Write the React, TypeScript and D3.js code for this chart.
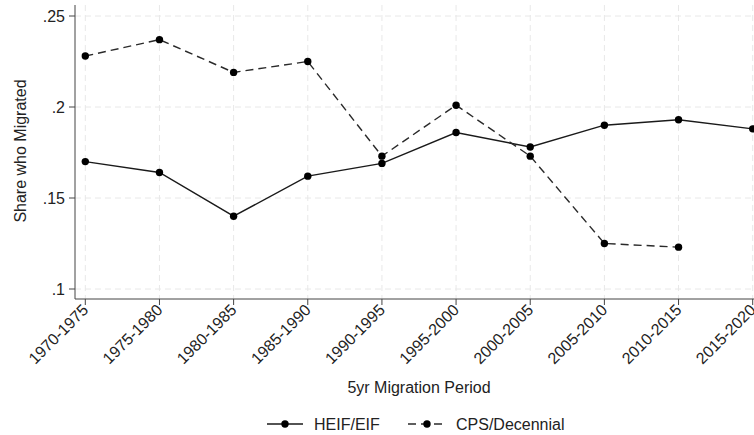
import React from 'react';
import * as d3 from 'd3';

// periods on the x axis
const periods = ['1970-1975', '1975-1980', '1980-1985', '1985-1990', '1990-1995',
  '1995-2000', '2000-2005', '2005-2010', '2010-2015', '2015-2020'];

// HEIF/EIF series (one value per period)
const heifValues = [0.170, 0.164, 0.140, 0.162, 0.169, 0.186, 0.178, 0.190, 0.193, 0.188];

// CPS/Decennial series (stops at 2010-2015)
const cpsValues = [0.228, 0.237, 0.219, 0.225, 0.173, 0.201, 0.173, 0.125, 0.123];

const yTicks = [0.1, 0.15, 0.2, 0.25];
const yTickLabels = ['.1', '.15', '.2', '.25'];

const W = 754;
const H = 435;
const FONT = 'Liberation Sans, Arial, sans-serif';

const PLOT_LEFT = 75;
const PLOT_RIGHT = 754;
const PLOT_TOP = 5;
const PLOT_BOTTOM = 299;
const DOT_R = 3.7;

export default function App() {
  const x = d3.scalePoint<string>().domain(periods).range([85.3, 752.7]);
  const y = d3.scaleLinear().domain([0.1, 0.25]).range([289, 16]);

  const line = d3.line<number>()
    .x((d, i) => x(periods[i]) as number)
    .y((d) => y(d));

  const series = [
    { name: 'HEIF/EIF', values: heifValues, dash: null as string | null, color: '#1a1a1a' },
    { name: 'CPS/Decennial', values: cpsValues, dash: '8,5', color: '#2a2a2a' },
  ];

  return (
    <svg width={W} height={H} style={{ position: 'absolute', left: 0, top: 0, background: '#fff' }}
      fontFamily={FONT}>
      <rect width={W} height={H} fill="#fff" />

      {/* grid */}
      {yTicks.map((t) => (
        <line key={'gy' + t} x1={PLOT_LEFT} x2={PLOT_RIGHT} y1={y(t)} y2={y(t)}
          stroke="#e8e8e8" strokeWidth={1} strokeDasharray="6,4" />
      ))}
      {periods.map((p) => (
        <line key={'gx' + p} x1={x(p)} x2={x(p)} y1={PLOT_TOP} y2={PLOT_BOTTOM}
          stroke="#e8e8e8" strokeWidth={1} strokeDasharray="6,4" />
      ))}

      {/* axes */}
      <line x1={PLOT_LEFT} x2={PLOT_LEFT} y1={PLOT_TOP} y2={PLOT_BOTTOM} stroke="#444" strokeWidth={1} />
      <line x1={PLOT_LEFT} x2={PLOT_RIGHT} y1={PLOT_BOTTOM} y2={PLOT_BOTTOM} stroke="#444" strokeWidth={1} />

      {yTicks.map((t, i) => (
        <g key={'ty' + t}>
          <line x1={PLOT_LEFT - 6} x2={PLOT_LEFT} y1={y(t)} y2={y(t)} stroke="#444" />
          <text x={PLOT_LEFT - 10} y={y(t)} dy="0.35em" textAnchor="end" fontSize={16} fill="#222">
            {yTickLabels[i]}
          </text>
        </g>
      ))}

      {periods.map((p) => {
        const px = x(p) as number;
        return (
          <g key={'tx' + p}>
            <line x1={px} x2={px} y1={PLOT_BOTTOM} y2={PLOT_BOTTOM + 6} stroke="#444" />
            <text transform={`translate(${px + 4},${PLOT_BOTTOM + 12}) rotate(-45)`}
              textAnchor="end" fontSize={16} fill="#222">{p}</text>
          </g>
        );
      })}

      {/* axis titles */}
      <text x={419} y={393} textAnchor="middle" fontSize={16} fill="#222">5yr Migration Period</text>
      <text transform={`translate(26,151) rotate(-90)`} textAnchor="middle" fontSize={16} fill="#222">
        Share who Migrated
      </text>

      {/* series */}
      {series.map((s) => (
        <g key={s.name}>
          <path d={line(s.values) as string} fill="none" stroke={s.color} strokeWidth={1.4}
            strokeDasharray={s.dash || undefined} />
          {s.values.map((v, i) => (
            <circle key={i} cx={x(periods[i])} cy={y(v)} r={DOT_R} fill="#000" />
          ))}
        </g>
      ))}

      {/* legend */}
      <g>
        <line x1={267} x2={303} y1={424} y2={424} stroke="#1a1a1a" strokeWidth={1.4} />
        <circle cx={285} cy={424} r={DOT_R} fill="#000" />
        <text x={314} y={424} dy="0.35em" fontSize={16} fill="#222">HEIF/EIF</text>
        <line x1={408} x2={446} y1={424} y2={424} stroke="#2a2a2a" strokeWidth={1.4} strokeDasharray="8,5" />
        <circle cx={427} cy={424} r={DOT_R} fill="#000" />
        <text x={456} y={424} dy="0.35em" fontSize={16} fill="#222">CPS/Decennial</text>
      </g>
    </svg>
  );
}
